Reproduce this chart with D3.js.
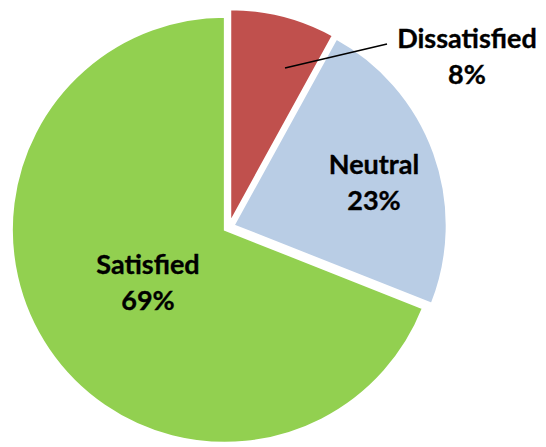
<!DOCTYPE html>
<html>
<head>
<meta charset="utf-8">
<script src="https://cdn.jsdelivr.net/npm/d3@7"></script>
<style>
  html, body { margin: 0; padding: 0; background: #fff; }
  svg { display: block; }
  text { font-family: Lato, "Open Sans", sans-serif; font-weight: bold; fill: #000; stroke: #000; stroke-width: 0.35px; }
</style>
</head>
<body>
<svg id="chart" width="546" height="447"></svg>
<script>
const categories = ["Dissatisfied", "Neutral", "Satisfied"];
const values = [8, 23, 69];
const colors = ["#C0504D", "#B9CDE5", "#92D050"];

const width = 546, height = 447;
const cx = 229, cy = 227, radius = 213, explode = 5;

// label anchor points (line-1 baseline, text centre) relative to pie centre
const labelLayout = {
  Dissatisfied: { x: 238, y: -179, leader: [[56, -159], [158, -183]] },
  Neutral: { x: 145, y: -53 },
  Satisfied: { x: -81, y: 47 }
};

const svg = d3.select("#chart");
const g = svg.append("g").attr("transform", `translate(${cx},${cy})`);

const data = categories.map((c, i) => ({ name: c, value: values[i], color: colors[i] }));
const pie = d3.pie().sort(null).value(d => d.value).startAngle(0).endAngle(2 * Math.PI);
const arc = d3.arc().innerRadius(0).outerRadius(radius);
const arcs = pie(data);

g.selectAll("path.slice")
  .data(arcs)
  .join("path")
  .attr("class", "slice")
  .attr("transform", d => {
    const a = (d.startAngle + d.endAngle) / 2;
    return `translate(${explode * Math.sin(a)},${-explode * Math.cos(a)})`;
  })
  .attr("d", arc)
  .attr("fill", d => d.data.color)
  .attr("stroke", "#fff")
  .attr("stroke-width", 2)
  .attr("stroke-linejoin", "miter");

// leader line
const dl = labelLayout.Dissatisfied.leader;
g.append("line")
  .attr("x1", dl[0][0]).attr("y1", dl[0][1])
  .attr("x2", dl[1][0]).attr("y2", dl[1][1])
  .attr("stroke", "#000").attr("stroke-width", 1.6);

const pctFmt = v => Math.round(v / d3.sum(values) * 100) + "%";

arcs.forEach(d => {
  const L = labelLayout[d.data.name];
  const t = g.append("text")
    .attr("text-anchor", "middle")
    .attr("font-size", 27);
  t.append("tspan").attr("x", L.x).attr("y", L.y).text(d.data.name);
  t.append("tspan").attr("x", L.x).attr("y", L.y + 35.5).text(pctFmt(d.data.value));
});
</script>
</body>
</html>
